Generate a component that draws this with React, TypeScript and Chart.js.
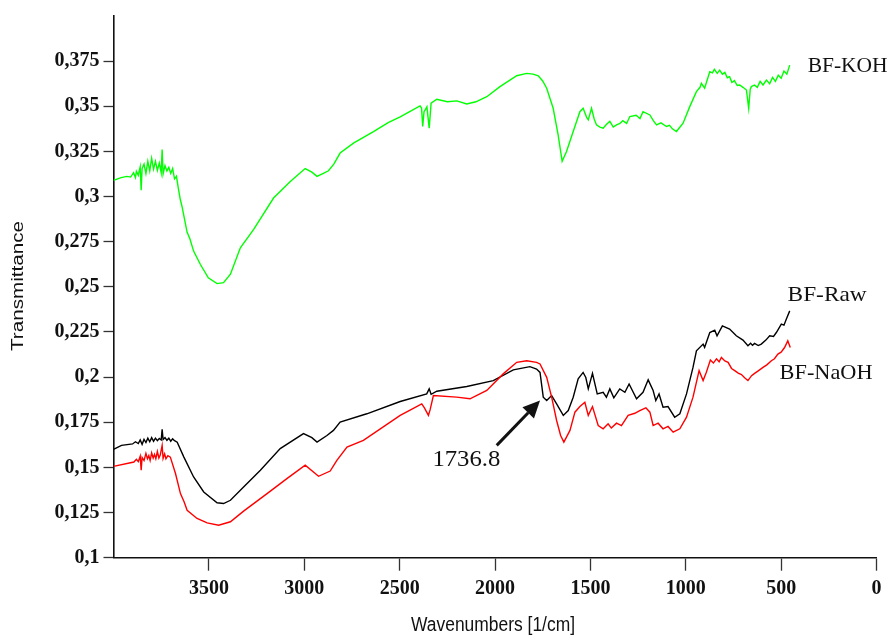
import React, { useEffect, useRef } from 'react';
import { Chart, registerables } from 'chart.js';
Chart.register(...registerables);

// ---- Data (wavenumber in 1/cm, transmittance) ----
const kohWave = [4000,3960,3930,3910,3895,3885,3880,3870,3860,3855,3850,3840,3830,3820,3810,3800,3790,3780,3770,3760,3750,3745,3740,3730,3720,3710,3700,3690,3680,3670,3660,3650,3640,3630,3614,3600,3580,3545,3503,3457,3423,3387,3335,3265,3161,3073,2995,2960,2933,2900,2873,2845,2812,2742,2637,2560,2497,2393,2385,2379,2372,2366,2357,2345,2335,2305,2250,2200,2148,2100,2043,1974,1886,1834,1800,1773,1750,1729,1695,1669,1648,1625,1590,1555,1538,1520,1511,1494,1480,1468,1450,1433,1415,1398,1380,1363,1345,1330,1310,1293,1260,1240,1224,1188,1170,1153,1130,1101,1085,1070,1049,1030,1014,979,944,925,918,901,874,860,850,835,822,808,795,782,770,758,745,730,717,700,682,670,662,656,640,625,610,595,577,560,545,530,515,500,485,470,455];
const kohValue = [0.309,0.3105,0.3112,0.3108,0.3132,0.3105,0.314,0.3118,0.3165,0.3035,0.3155,0.318,0.3128,0.3195,0.3142,0.3212,0.3152,0.3195,0.3145,0.3185,0.3132,0.326,0.3125,0.3172,0.3142,0.3162,0.3128,0.3155,0.3098,0.3112,0.3045,0.2985,0.2942,0.2888,0.2802,0.2768,0.2698,0.2625,0.255,0.2518,0.2523,0.257,0.2716,0.2818,0.2992,0.3084,0.3155,0.3135,0.3112,0.3128,0.3143,0.318,0.3241,0.3296,0.336,0.341,0.3442,0.3502,0.349,0.3388,0.347,0.348,0.3497,0.3379,0.3517,0.3539,0.3525,0.353,0.3513,0.3525,0.3553,0.3609,0.3669,0.3682,0.3678,0.3669,0.364,0.36,0.3489,0.3342,0.3195,0.325,0.336,0.347,0.3489,0.344,0.3425,0.3489,0.343,0.3397,0.3385,0.3379,0.34,0.3416,0.3385,0.3397,0.3405,0.342,0.3405,0.3443,0.345,0.3432,0.347,0.3452,0.342,0.3397,0.3408,0.3388,0.3395,0.3375,0.336,0.3385,0.3406,0.3498,0.3581,0.3605,0.3627,0.36,0.3691,0.3685,0.3705,0.3682,0.37,0.3678,0.3688,0.3658,0.3664,0.3632,0.3642,0.3615,0.3618,0.3605,0.359,0.3489,0.3595,0.3609,0.3618,0.3605,0.3638,0.3618,0.3645,0.3625,0.366,0.3638,0.3672,0.3655,0.3695,0.3678,0.3728];

const rawWave = [4000,3958,3900,3885,3870,3860,3850,3840,3830,3820,3810,3800,3790,3780,3770,3760,3750,3745,3740,3730,3720,3710,3700,3690,3680,3666,3631,3580,3527,3457,3423,3387,3318,3230,3126,3004,2960,2933,2881,2847,2812,2672,2497,2358,2345,2335,2305,2148,2009,1904,1817,1782,1764,1747,1729,1703,1677,1642,1616,1590,1564,1538,1524,1511,1489,1464,1433,1416,1398,1377,1346,1319,1297,1258,1224,1197,1171,1157,1140,1119,1093,1058,1031,996,962,944,909,901,874,848,836,808,770,735,700,674,660,650,639,620,604,580,560,540,525,499,485,473,455];
const rawValue = [0.16,0.1622,0.163,0.1642,0.1632,0.1652,0.1628,0.1655,0.1638,0.1662,0.1642,0.1665,0.1645,0.1662,0.1648,0.166,0.1652,0.1711,0.1655,0.1665,0.165,0.1662,0.1645,0.1658,0.1648,0.164,0.1557,0.1447,0.1364,0.1304,0.13,0.1318,0.1392,0.1484,0.1604,0.1687,0.1665,0.164,0.1677,0.1705,0.1751,0.1797,0.1865,0.1907,0.1935,0.1905,0.1922,0.1948,0.1981,0.204,0.2058,0.2045,0.2026,0.1889,0.187,0.1898,0.1852,0.1788,0.1815,0.1889,0.199,0.2026,0.1998,0.1935,0.2021,0.1907,0.1916,0.1889,0.1935,0.1885,0.1935,0.1916,0.1962,0.188,0.1916,0.1985,0.1926,0.187,0.1907,0.1833,0.1837,0.1778,0.1797,0.1907,0.2054,0.2146,0.2183,0.2165,0.2247,0.226,0.2229,0.2284,0.2266,0.2229,0.2205,0.2174,0.2188,0.2176,0.2187,0.2175,0.2183,0.2205,0.2229,0.2225,0.2247,0.2294,0.2288,0.2321,0.2367];

const naohWave = [4000,3893,3880,3870,3860,3855,3850,3840,3830,3822,3815,3808,3800,3792,3785,3778,3770,3762,3755,3745,3740,3732,3725,3715,3702,3675,3649,3630,3614,3562,3509,3449,3387,3318,3195,3091,2995,2925,2864,2829,2776,2690,2497,2384,2370,2349,2340,2323,2201,2131,2043,1957,1886,1834,1782,1764,1729,1703,1677,1656,1639,1607,1581,1555,1529,1511,1489,1459,1433,1407,1390,1363,1337,1302,1267,1241,1209,1188,1171,1145,1119,1093,1066,1031,996,962,930,909,892,871,855,839,825,813,795,778,760,743,725,708,690,674,655,639,620,595,575,551,535,517,500,482,465,452];
const naohValue = [0.1506,0.153,0.1545,0.1532,0.1562,0.1484,0.1555,0.1538,0.1578,0.1548,0.1565,0.1538,0.158,0.1552,0.1572,0.1548,0.1588,0.1552,0.1568,0.1622,0.155,0.1575,0.1548,0.1565,0.1557,0.1466,0.1355,0.131,0.1263,0.1217,0.1193,0.118,0.1199,0.1258,0.1355,0.1438,0.1512,0.1451,0.148,0.1539,0.1613,0.165,0.1788,0.1852,0.183,0.1788,0.182,0.1898,0.1889,0.188,0.1926,0.2018,0.2082,0.2091,0.2082,0.2073,0.1999,0.1889,0.176,0.1677,0.164,0.1705,0.1806,0.1837,0.1861,0.1788,0.1837,0.1732,0.1714,0.1742,0.1718,0.1745,0.1732,0.1788,0.18,0.1815,0.183,0.1806,0.1732,0.1745,0.1714,0.1727,0.1695,0.1714,0.1778,0.1889,0.2036,0.1981,0.2027,0.2095,0.2078,0.2101,0.2085,0.2109,0.209,0.2082,0.2048,0.2036,0.2022,0.2014,0.1995,0.1981,0.2008,0.2021,0.2035,0.2054,0.2068,0.2091,0.2102,0.2128,0.2138,0.2164,0.2201,0.2164];

const xTickValues = [3500, 3000, 2500, 2000, 1500, 1000, 500, 0];
const yTickValues = [0.1, 0.125, 0.15, 0.175, 0.2, 0.225, 0.25, 0.275, 0.3, 0.325, 0.35, 0.375];

const seriesLabels = ['BF-KOH', 'BF-Raw', 'BF-NaOH'];
const peakLabel = '1736.8';

const W = 891;
const H = 639;

function pts(w: number[], v: number[]) {
  return w.map((x, i) => ({ x, y: v[i] }));
}

function drawText(ctx: CanvasRenderingContext2D, text: string, x: number, y: number, font: string, targetW: number, align: 'left' | 'center', rotate = false) {
  ctx.save();
  ctx.font = font;
  const w = ctx.measureText(text).width;
  ctx.translate(x, y);
  if (rotate) ctx.rotate(-Math.PI / 2);
  ctx.scale(targetW / w, 1);
  ctx.textAlign = align;
  ctx.textBaseline = 'middle';
  ctx.fillStyle = '#111';
  ctx.fillText(text, 0, 0);
  ctx.restore();
}

const annotPlugin = {
  id: 'annot',
  afterDraw(chart: any) {
    const ctx: CanvasRenderingContext2D = chart.ctx;
    const xs = chart.scales.x;
    const ys = chart.scales.y;
    const px = (w: number) => xs.getPixelForValue(w);
    const py = (v: number) => ys.getPixelForValue(v);
    const serif = '21px "Liberation Serif", "Times New Roman", serif';
    drawText(ctx, seriesLabels[0], px(361), py(0.3719), serif, 80, 'left');
    drawText(ctx, seriesLabels[1], px(466), py(0.245), serif, 79, 'left');
    drawText(ctx, seriesLabels[2], px(508), py(0.2022), serif, 93, 'left');
    drawText(ctx, peakLabel, px(2150), py(0.1542), '23px "Liberation Serif", serif', 68, 'center');

    // arrow
    const x0 = px(1991), y0 = py(0.1622);
    const x1 = px(1764), y1 = py(0.187);
    const ang = Math.atan2(y1 - y0, x1 - x0);
    const headLen = 17, headHalf = 8;
    const bx = x1 - headLen * Math.cos(ang), by = y1 - headLen * Math.sin(ang);
    ctx.save();
    ctx.strokeStyle = '#111';
    ctx.fillStyle = '#111';
    ctx.lineWidth = 3;
    ctx.beginPath();
    ctx.moveTo(x0, y0);
    ctx.lineTo(bx, by);
    ctx.stroke();
    ctx.beginPath();
    ctx.moveTo(x1, y1);
    ctx.lineTo(bx + headHalf * Math.sin(ang), by - headHalf * Math.cos(ang));
    ctx.lineTo(bx - headHalf * Math.sin(ang), by + headHalf * Math.cos(ang));
    ctx.closePath();
    ctx.fill();
    ctx.restore();

    // axis titles
    drawText(ctx, 'Transmittance', 18.5, 286, '16px "Liberation Sans", Arial, sans-serif', 130, 'center', true);
    drawText(ctx, 'Wavenumbers [1/cm]', 493, 625, '20px "Liberation Sans", Arial, sans-serif', 164, 'center');
  },
};

export default function App() {
  const ref = useRef<HTMLCanvasElement>(null);
  useEffect(() => {
    const canvas = ref.current!;
    const tickFont = { family: '"Liberation Serif", "Times New Roman", serif', size: 20, weight: 'bold' as const };
    const chart = new Chart(canvas, {
      type: 'line',
      data: {
        datasets: [
          { label: seriesLabels[2], data: pts(naohWave, naohValue), borderColor: '#ff0000', borderWidth: 1.4, pointRadius: 0, tension: 0, fill: false, order: 0 },
          { label: seriesLabels[1], data: pts(rawWave, rawValue), borderColor: '#000000', borderWidth: 1.4, pointRadius: 0, tension: 0, fill: false, order: 1 },
          { label: seriesLabels[0], data: pts(kohWave, kohValue), borderColor: '#00ff00', borderWidth: 1.4, pointRadius: 0, tension: 0, fill: false, order: 2 },
        ],
      },
      options: {
        responsive: false,
        animation: false,
        devicePixelRatio: 1,
        events: [],
        layout: { padding: { top: 13.6, right: 14.5, left: 0, bottom: 0 } },
        plugins: { legend: { display: false }, tooltip: { enabled: false }, title: { display: false } },
        scales: {
          x: {
            type: 'linear',
            reverse: true,
            min: 0,
            max: 4000,
            afterBuildTicks: (s: any) => { s.ticks = xTickValues.map((value) => ({ value })); },
            afterFit: (s: any) => { s.height = H - 557.7; },
            ticks: { color: '#111', font: tickFont, padding: 6, maxRotation: 0, autoSkip: false, callback: (v: any) => String(v) },
            grid: { display: true, drawOnChartArea: false, drawTicks: true, tickLength: 13, tickWidth: 1.3, tickColor: '#333' },
            border: { display: true, color: '#111', width: 1.6 },
          },
          y: {
            type: 'linear',
            min: 0.1,
            max: 0.4,
            afterBuildTicks: (s: any) => { s.ticks = yTickValues.map((value) => ({ value })); },
            afterFit: (s: any) => { s.width = 113.5; },
            ticks: {
              color: '#111', font: tickFont, padding: 4, autoSkip: false,
              callback: (v: any) => (Math.round(Number(v) * 1000) / 1000).toString().replace('.', ','),
            },
            grid: { display: true, drawOnChartArea: false, drawTicks: true, tickLength: 10, tickWidth: 1.3, tickColor: '#333' },
            border: { display: true, color: '#111', width: 1.6 },
          },
        },
      },
      plugins: [annotPlugin],
    } as any);
    return () => chart.destroy();
  }, []);
  return (
    <div style={{ position: 'fixed', left: 0, top: 0, width: W, height: H, background: '#fff' }}>
      <canvas ref={ref} width={W} height={H} style={{ width: W, height: H, display: 'block' }} />
    </div>
  );
}
